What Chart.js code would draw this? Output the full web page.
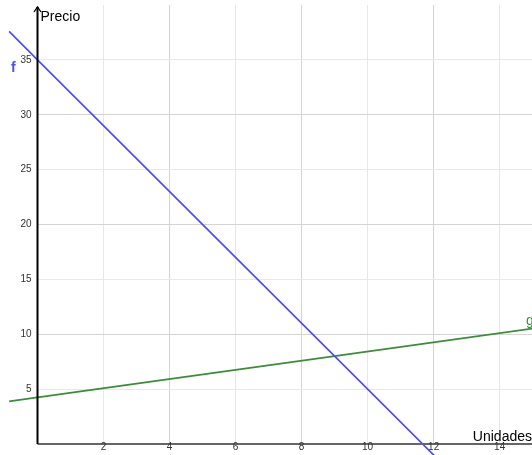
<!DOCTYPE html>
<html>
<head>
<meta charset="utf-8">
<script src="https://cdn.jsdelivr.net/npm/chart.js@4"></script>
<style>
  body { margin: 0; background: #fff; }
  canvas { display: block; }
</style>
</head>
<body>
<canvas id="chart" width="532" height="455"></canvas>
<script>
// line f (demand)
const fX = [-0.86, 0, 9, 12.6];
const fY = [37.6, 35, 8, -2.8];
// line g (supply)
const gX = [-0.86, 0, 9, 15.2];
const gY = [3.88, 4.24, 8.0, 10.6];

const xTicks = [2, 4, 6, 8, 10, 12, 14];
const yTicks = [5, 10, 15, 20, 25, 30, 35];

const toPoints = (xs, ys) => xs.map((x, i) => ({ x: x, y: ys[i] }));

// draws the axes, arrow, tick labels and curve names
const overlay = {
  id: "overlay",
  afterDatasetsDraw(chart) {
    const ctx = chart.ctx;
    const xs = chart.scales.x, ys = chart.scales.y;
    const x0 = xs.getPixelForValue(0), y0 = ys.getPixelForValue(0);
    ctx.save();
    // x axis
    ctx.strokeStyle = "#666";
    ctx.lineWidth = 2;
    ctx.beginPath();
    ctx.moveTo(x0, y0);
    ctx.lineTo(chart.width, y0);
    ctx.stroke();
    // y axis
    ctx.strokeStyle = "#000";
    ctx.beginPath();
    ctx.moveTo(x0, y0);
    ctx.lineTo(x0, 7);
    ctx.stroke();
    ctx.lineWidth = 1.3;
    ctx.beginPath();
    ctx.moveTo(x0 - 3.5, 12);
    ctx.lineTo(x0, 7);
    ctx.lineTo(x0 + 3.5, 12);
    ctx.stroke();

    ctx.fillStyle = "#333";
    ctx.font = "10px 'Liberation Sans', Arial, sans-serif";
    ctx.textAlign = "right";
    ctx.textBaseline = "middle";
    yTicks.forEach(v => ctx.fillText(String(v), x0 - 6, ys.getPixelForValue(v)));
    ctx.textAlign = "center";
    ctx.textBaseline = "top";
    xTicks.forEach(v => ctx.fillText(String(v), xs.getPixelForValue(v), y0 - 2));

    ctx.fillStyle = "#000";
    ctx.font = "14px 'Liberation Sans', Arial, sans-serif";
    ctx.textAlign = "left";
    ctx.textBaseline = "middle";
    ctx.fillText("Precio", x0 + 3, 17);
    ctx.textAlign = "right";
    ctx.fillText("Unidades", chart.width, y0 - 7);

    ctx.font = "bold 14px 'Liberation Sans', Arial, sans-serif";
    ctx.textAlign = "left";
    ctx.fillStyle = "#4d4dff";
    ctx.fillText("f", 11, 68);
    ctx.font = "14px 'Liberation Sans', Arial, sans-serif";
    ctx.fillStyle = "#3c8c3c";
    ctx.fillText("g", 526, 321);
    ctx.restore();
  }
};

const gridColor = (ctx, major) => {
  const v = ctx.tick ? ctx.tick.value : 0;
  if (v <= 0 || v >= 40) return "rgba(0,0,0,0)";
  return v % major === 0 ? "#d4d4d4" : "#e8e8e8";
};

new Chart(document.getElementById("chart"), {
  type: "scatter",
  data: {
    datasets: [
      {
        label: "f",
        data: toPoints(fX, fY),
        showLine: true,
        borderColor: "#4d4dff",
        borderWidth: 1.7,
        pointRadius: 0,
        tension: 0,
        clip: false
      },
      {
        label: "g",
        data: toPoints(gX, gY),
        showLine: true,
        borderColor: "#3c8c3c",
        borderWidth: 1.7,
        pointRadius: 0,
        tension: 0,
        clip: false
      }
    ]
  },
  options: {
    responsive: false,
    animation: false,
    layout: { padding: { left: 37.5, right: 0, top: 5, bottom: 11 } },
    plugins: {
      legend: { display: false },
      tooltip: { enabled: false }
    },
    scales: {
      x: {
        type: "linear",
        min: 0,
        max: 14.98,
        border: { display: false },
        ticks: { display: false, stepSize: 2, includeBounds: false },
        grid: { drawTicks: false, color: ctx => gridColor(ctx, 4) }
      },
      y: {
        type: "linear",
        min: 0,
        max: 40,
        border: { display: false },
        ticks: { display: false, stepSize: 5, includeBounds: false },
        grid: { drawTicks: false, color: ctx => gridColor(ctx, 10) }
      }
    }
  },
  plugins: [overlay]
});
</script>
</body>
</html>
